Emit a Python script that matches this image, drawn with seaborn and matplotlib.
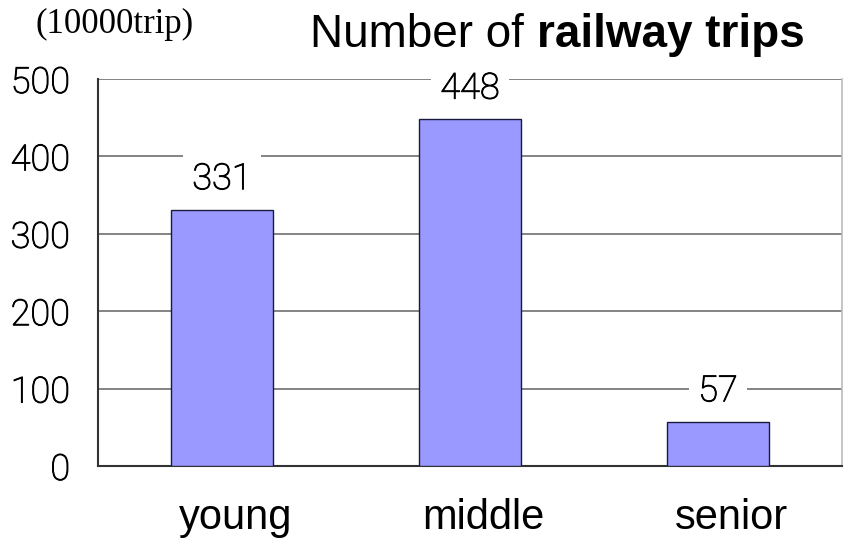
import matplotlib
matplotlib.use("Agg")
import matplotlib.pyplot as plt
import matplotlib.patheffects as pe
import seaborn as sns
import pandas as pd

# Railway trips by age group (unit: 10,000 trips)
groups = ["young", "middle", "senior"]
trips = [331, 448, 57]
y_ticks = [0, 100, 200, 300, 400, 500]

df = pd.DataFrame({"group": groups, "trips": trips})

sns.set_style("white")
plt.rcParams["font.family"] = ["Roboto", "DejaVu Sans"]
plt.rcParams["text.color"] = "black"
plt.rcParams["xtick.color"] = "black"
plt.rcParams["ytick.color"] = "black"

fig = plt.figure(figsize=(8.47, 5.39), dpi=100)
ax = fig.add_axes([98 / 847, 1 - 466 / 539, 744 / 847, 387 / 539])

sns.barplot(data=df, x="group", y="trips", color="#9999FF", width=0.41,
            edgecolor="#1a1a40", linewidth=1.0, saturation=1, ax=ax, zorder=3)

# slightly heavier strokes for the light numeric font
num_fx = [pe.withStroke(linewidth=0.7, foreground="black")]

ax.set_xlim(-0.5, len(groups) - 0.5)
ax.set_ylim(y_ticks[0], y_ticks[-1])
ax.set_yticks(y_ticks)
ax.set_yticklabels([str(v) for v in y_ticks], fontsize=26, fontweight="light",
                   color="black")
for lab in ax.get_yticklabels():
    lab.set_path_effects(num_fx)
ax.yaxis.grid(True, color="#7a7a7a", linewidth=1.3, zorder=0)
ax.set_axisbelow(True)

# category labels sit a little right of the bar centres;
# separators between categories on minor ticks
label_nudge = 0.055
ax.set_xticks([i + label_nudge for i in range(len(groups))])
ax.set_xticklabels(groups, fontsize=30, family="Liberation Sans", color="black")
ax.set_xticks([i - 0.5 for i in range(len(groups) + 1)], minor=True)
ax.tick_params(axis="x", which="major", length=0, pad=23)
ax.tick_params(axis="x", which="minor", direction="in", length=10,
               width=1.2, color="#555555")
ax.tick_params(axis="y", direction="in", length=10, width=1.5,
               color="#333333", pad=20)
ax.set_xlabel("")
ax.set_ylabel("")

for side in ["left", "bottom"]:
    ax.spines[side].set_visible(True)
    ax.spines[side].set_color("#333333")
    ax.spines[side].set_linewidth(1.5)
ax.spines["top"].set_visible(False)
ax.spines["right"].set_visible(True)
ax.spines["right"].set_color("#bbbbbb")
ax.spines["right"].set_linewidth(1.2)

# value labels with white boxes over the grid
for i, v in enumerate(trips):
    ax.annotate(str(v), xy=(i, v), xytext=(0, 22), textcoords="offset points",
                ha="center", va="center", fontsize=26, fontweight="light",
                color="black", zorder=2, path_effects=num_fx,
                bbox=dict(boxstyle="square,pad=0.25", facecolor="white",
                          edgecolor="none"))

# title: regular lead-in followed by bold part
t1 = fig.text(310 / 847, 1 - 47 / 539, "Number of ", fontsize=33,
              family="Liberation Sans", va="baseline", ha="left", color="black")
fig.canvas.draw()
ax.annotate("railway trips", xy=(1, 0), xycoords=t1, va="bottom", ha="left",
            fontsize=33, family="Liberation Sans", fontweight="bold",
            color="black", annotation_clip=False)

fig.text(35 / 847, 1 - 33 / 539, "(10000trip)", fontsize=25,
         family="Liberation Serif", va="baseline", ha="left", color="black")

fig.savefig("out.png", dpi=100, facecolor="white")
